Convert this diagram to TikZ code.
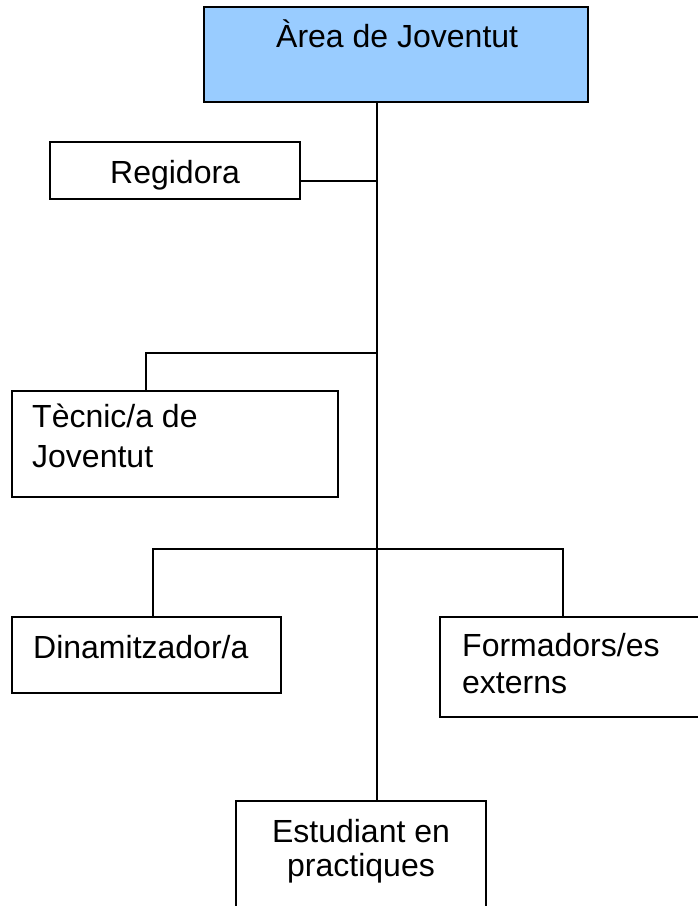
\documentclass[tikz,border=0pt]{standalone}
\usepackage{fontspec}
\setmainfont{Liberation Sans}
\definecolor{topblue}{HTML}{99CCFF}
\begin{document}
\begin{tikzpicture}[x=1pt,y=-1pt,
  box/.style={draw=black,line width=2pt,fill=white,inner sep=0pt},
  lbl/.style={font=\fontsize{32}{38}\selectfont,inner sep=0pt,anchor=base west},
  lblc/.style={font=\fontsize{32}{38}\selectfont,inner sep=0pt,anchor=base},
  conn/.style={draw=black,line width=2pt}]
\clip (0,0) rectangle (698,906);
\fill[white] (0,0) rectangle (698,906);
% junction coordinates
\coordinate (j1) at (377,181);
\coordinate (j2) at (377,353);
\coordinate (k2) at (146,353);
\coordinate (j3) at (377,549);
\coordinate (k3a) at (153,549);
\coordinate (k3b) at (563,549);
% boxes
\node[box,fill=topblue,minimum width=384pt,minimum height=95pt] (top) at (396,54.5) {};
\node[box,minimum width=250pt,minimum height=57pt] (reg) at (175,170.5) {};
\node[box,minimum width=326pt,minimum height=106pt] (tec) at (175,444) {};
\node[box,minimum width=269pt,minimum height=76pt] (din) at (146.5,655) {};
\node[box,minimum width=280pt,minimum height=100pt] (for) at (580,667) {};
\node[box,minimum width=250pt,minimum height=129pt] (est) at (361,865.5) {};
% connectors
\draw[conn] (top.south -| j1) -- (est.north -| j1);
\draw[conn] (reg.east |- j1) -- (j1);
\draw[conn] (j2) -- (k2) -- (k2 |- tec.north);
\draw[conn] (k3a |- din.north) -- (k3a) -- (k3b) -- (k3b |- for.north);
% labels
\node[lbl] (ttop) at (276,47) {Àrea de Joventut};
\node[lbl] (treg) at (110,183) {Regidora};
\node[lbl] (ttec1) at (32,427) {Tècnic/a de};
\node[lbl] (ttec2) at (32,467) {Joventut};
\node[lbl] (tdin) at (33,658) {Dinamitzador/a};
\node[lbl] (tfor1) at (462,656) {Formadors/es};
\node[lbl] (tfor2) at (462,693) {externs};
\node[lblc] (test1) at (361,842) {Estudiant en};
\node[lblc] (test2) at (361,876) {practiques};
\end{tikzpicture}
\end{document}
